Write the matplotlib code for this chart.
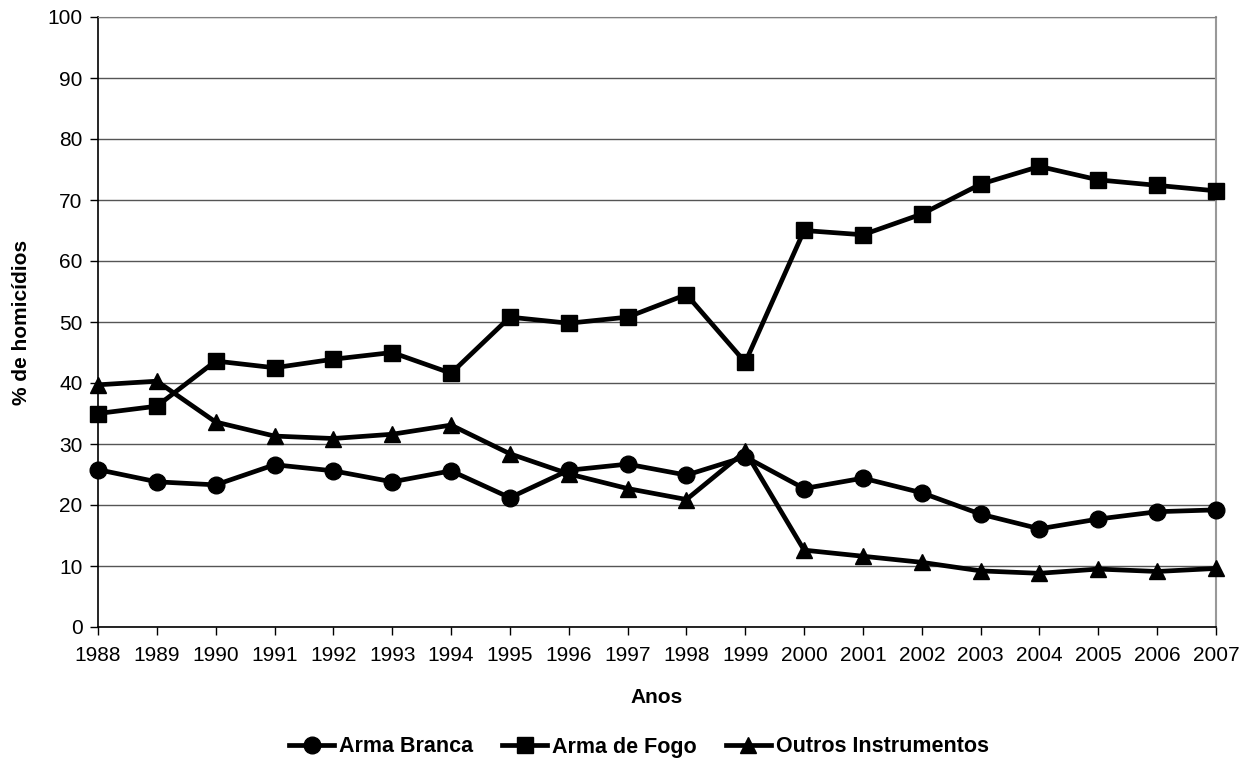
import matplotlib
matplotlib.use("Agg")
import matplotlib.pyplot as plt

plt.rcParams["font.family"] = ["Liberation Sans", "DejaVu Sans"]

# dados (% de homicídios por instrumento)
anos = list(range(1988, 2008))
arma_branca = [25.8, 23.8, 23.3, 26.6, 25.6, 23.8, 25.6, 21.2, 25.7, 26.7,
               24.9, 27.9, 22.7, 24.4, 22.0, 18.5, 16.1, 17.7, 18.9, 19.2]
arma_fogo = [35.0, 36.2, 43.6, 42.5, 43.9, 45.0, 41.6, 50.8, 49.8, 50.8,
             54.5, 43.4, 65.0, 64.3, 67.7, 72.6, 75.5, 73.3, 72.4, 71.5]
outros = [39.7, 40.3, 33.6, 31.3, 30.9, 31.6, 33.1, 28.4, 25.1, 22.7,
          20.9, 28.8, 12.6, 11.6, 10.6, 9.2, 8.8, 9.5, 9.1, 9.6]
yticks = list(range(0, 101, 10))

fig = plt.figure(figsize=(12.48, 7.62), dpi=100)
ax = fig.add_axes([98 / 1248, 1 - 627 / 762, (1216 - 98) / 1248, (627 - 17) / 762])

series = [
    (arma_branca, "o", "Arma Branca", 12),
    (arma_fogo, "s", "Arma de Fogo", 11.5),
    (outros, "^", "Outros Instrumentos", 12),
]
for vals, mk, lab, ms in series:
    ax.plot(anos, vals, color="black", marker=mk, markersize=ms, linewidth=3.4,
            label=lab, clip_on=False, zorder=3)

ax.set_xlim(1988, 2007)
ax.set_ylim(0, 100)
ax.set_xticks(anos)
ax.set_yticks(yticks)
ax.tick_params(axis="both", labelsize=15, direction="out", length=6,
               width=1, color="black")
ax.tick_params(axis="x", pad=8)
ax.tick_params(axis="y", pad=5)

ax.yaxis.grid(True, color="#555555", linewidth=1)
ax.set_axisbelow(True)
ax.spines["top"].set_color("#808080")
ax.spines["right"].set_color("#999999")
ax.spines["right"].set_linewidth(1.5)
ax.spines["left"].set_linewidth(1.2)
ax.spines["bottom"].set_linewidth(1.2)

ax.set_xlabel("Anos", fontsize=15, fontweight="bold", labelpad=16)
ax.set_ylabel("% de homicídios", fontsize=15, fontweight="bold", labelpad=12)

fig.legend(loc="center left", bbox_to_anchor=(289 / 1248, 1 - 747 / 762),
           ncol=3, frameon=False, borderpad=0, borderaxespad=0,
           prop={"size": 15.5, "weight": "bold"},
           handlelength=2.1, handletextpad=0.22, columnspacing=1.35)

fig.savefig("out.png", dpi=100)
